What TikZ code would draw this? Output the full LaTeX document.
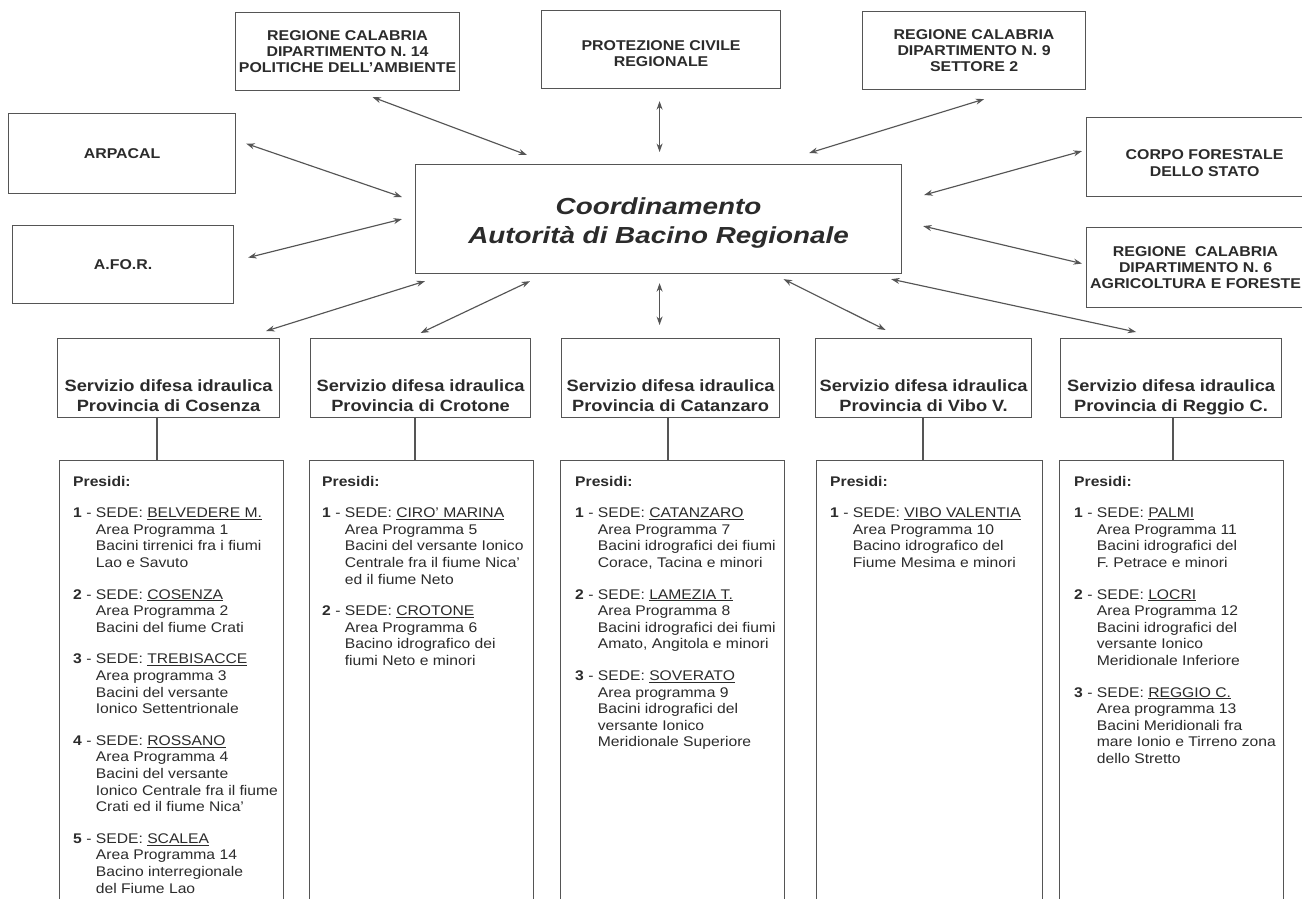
\documentclass[tikz,border=0pt]{standalone}
\usepackage{fontspec}
\setmainfont{Liberation Sans}[FakeStretch=1.12]
\newfontfamily\coordfont{Liberation Sans}[FakeStretch=1.2]
\usetikzlibrary{arrows.meta}
\definecolor{ln}{HTML}{555555}
\definecolor{tx}{HTML}{2B2B2B}
\newcommand\topf{\fontsize{14.2}{16.3}\selectfont\bfseries}
\newcommand\svcf{\fontsize{16.3}{20}\selectfont\bfseries}
\newcommand\bodyf{\fontsize{14}{16.6}\selectfont}
\newcommand\nr[1]{\textbf{#1}~-~}
\begin{document}
\begin{tikzpicture}[x=1pt,y=-1pt,
  box/.style={draw=ln, line width=1.15pt, inner sep=0pt, anchor=north west, text=tx, align=center},
  topbox/.style={box, font=\topf, minimum height=78pt},
  svcbox/.style={box, minimum width=#1, minimum height=79pt},
  prbox/.style={box, minimum width=#1, minimum height=470pt},
  boxtxt/.style={inner sep=0pt, text=tx, align=center, font=\topf},
  svctxt/.style={anchor=base, inner sep=0pt, text=tx, font=\svcf},
  coltxt/.style={anchor=base west, inner sep=0pt, text=tx, font=\bodyf},
  arr/.style={draw=ln, line width=1.15pt, {Stealth[length=8.5pt,width=6pt]}-{Stealth[length=8.5pt,width=6pt]}},
  link/.style={draw=ln, line width=1.15pt}]
\useasboundingbox (0,0) rectangle (1302,899);
\fill[white] (0,0) rectangle (1302,899);

% top boxes
\node[topbox, minimum width=224pt] (dip14) at (235,12) {REGIONE CALABRIA\\DIPARTIMENTO N. 14\\POLITICHE DELL'AMBIENTE};
\node[topbox, minimum width=239pt] (prot) at (541,10) {};
\node[boxtxt] (tprot) at ([shift={(0,4)}]prot.center) {PROTEZIONE CIVILE\\REGIONALE};
\node[topbox, minimum width=223pt] (dip9) at (862,11) {REGIONE CALABRIA\\DIPARTIMENTO N. 9\\SETTORE 2};
\node[topbox, minimum width=227pt, minimum height=80pt] (arpacal) at (8,113) {ARPACAL};
\node[topbox, minimum width=221pt] (afor) at (12,225) {A.FO.R.};
\node[topbox, minimum width=236pt, minimum height=79pt] (corpo) at (1086,117) {};
\node[boxtxt] (tcorpo) at ([shift={(0,6)}]corpo.center) {CORPO FORESTALE\\DELLO STATO};
\node[topbox, minimum width=218pt, minimum height=80pt] (dip6) at (1086,227) {REGIONE\ \ CALABRIA\\DIPARTIMENTO N. 6\\AGRICOLTURA E FORESTE};

% central box
\node[box, minimum width=486pt, minimum height=109pt] (coord) at (415,164) {};
\node[inner sep=0pt, text=tx, align=center, font={\coordfont\fontsize{23.2}{28.5}\selectfont\bfseries\itshape}] (tcoord) at ([shift={(0,4)}]coord.center) {Coordinamento\\Autorità di Bacino Regionale};

% service boxes
\node[svcbox=222pt] (cos) at (57,338) {};
\node[svcbox=220pt] (cro) at (310,338) {};
\node[svcbox=218pt] (cat) at (561,338) {};
\node[svcbox=216pt] (vib) at (815,338) {};
\node[svcbox=221pt] (reg) at (1060,338) {};

\node[svctxt] (tcos) at (cos.center |- 0,391) {\begin{tabular}[t]{@{}c@{}}Servizio difesa idraulica\\Provincia di Cosenza\end{tabular}};
\node[svctxt] (tcro) at (cro.center |- 0,391) {\begin{tabular}[t]{@{}c@{}}Servizio difesa idraulica\\Provincia di Crotone\end{tabular}};
\node[svctxt] (tcat) at (cat.center |- 0,391) {\begin{tabular}[t]{@{}c@{}}Servizio difesa idraulica\\Provincia di Catanzaro\end{tabular}};
\node[svctxt] (tvib) at (vib.center |- 0,391) {\begin{tabular}[t]{@{}c@{}}Servizio difesa idraulica\\Provincia di Vibo V.\end{tabular}};
\node[svctxt] (treg) at (reg.center |- 0,391) {\begin{tabular}[t]{@{}c@{}}Servizio difesa idraulica\\Provincia di Reggio C.\end{tabular}};

% presidi boxes
\node[prbox=224pt] (pcos) at (59,460) {};
\node[prbox=224pt] (pcro) at (309,460) {};
\node[prbox=224pt] (pcat) at (560,460) {};
\node[prbox=226pt] (pvib) at (816,460) {};
\node[prbox=224pt] (preg) at (1059,460) {};

% vertical links
\coordinate (vcos) at (157,0);
\coordinate (vcro) at (415,0);
\coordinate (vcat) at (668,0);
\coordinate (vvib) at (923,0);
\coordinate (vreg) at (1173,0);
\draw[link] (vcos |- cos.south) -- (vcos |- pcos.north);
\draw[link] (vcro |- cro.south) -- (vcro |- pcro.north);
\draw[link] (vcat |- cat.south) -- (vcat |- pcat.north);
\draw[link] (vvib |- vib.south) -- (vvib |- pvib.north);
\draw[link] (vreg |- reg.south) -- (vreg |- preg.north);

% column texts
\node[coltxt] (ccos) at (73,486) {\begin{tabular}[t]{@{}l@{}l@{}}
\multicolumn{2}{@{}l@{}}{\textbf{Presidi:}}\\[15pt]
\nr{1} & SEDE: \underline{BELVEDERE M.}\\
 & Area Programma 1\\
 & Bacini tirrenici fra i fiumi\\
 & Lao e Savuto\\[15pt]
\nr{2} & SEDE: \underline{COSENZA}\\
 & Area Programma 2\\
 & Bacini del fiume Crati\\[15pt]
\nr{3} & SEDE: \underline{TREBISACCE}\\
 & Area programma 3\\
 & Bacini del versante\\
 & Ionico Settentrionale\\[15pt]
\nr{4} & SEDE: \underline{ROSSANO}\\
 & Area Programma 4\\
 & Bacini del versante\\
 & Ionico Centrale fra il fiume\\
 & Crati ed il fiume Nica'\\[15pt]
\nr{5} & SEDE: \underline{SCALEA}\\
 & Area Programma 14\\
 & Bacino interregionale\\
 & del Fiume Lao
\end{tabular}};

\node[coltxt] (ccro) at (322,486) {\begin{tabular}[t]{@{}l@{}l@{}}
\multicolumn{2}{@{}l@{}}{\textbf{Presidi:}}\\[15pt]
\nr{1} & SEDE: \underline{CIRO' MARINA}\\
 & Area Programma 5\\
 & Bacini del versante Ionico\\
 & Centrale fra il fiume Nica'\\
 & ed il fiume Neto\\[15pt]
\nr{2} & SEDE: \underline{CROTONE}\\
 & Area Programma 6\\
 & Bacino idrografico dei\\
 & fiumi Neto e minori
\end{tabular}};

\node[coltxt] (ccat) at (575,486) {\begin{tabular}[t]{@{}l@{}l@{}}
\multicolumn{2}{@{}l@{}}{\textbf{Presidi:}}\\[15pt]
\nr{1} & SEDE: \underline{CATANZARO}\\
 & Area Programma 7\\
 & Bacini idrografici dei fiumi\\
 & Corace, Tacina e minori\\[15pt]
\nr{2} & SEDE: \underline{LAMEZIA T.}\\
 & Area Programma 8\\
 & Bacini idrografici dei fiumi\\
 & Amato, Angitola e minori\\[15pt]
\nr{3} & SEDE: \underline{SOVERATO}\\
 & Area programma 9\\
 & Bacini idrografici del\\
 & versante Ionico\\
 & Meridionale Superiore
\end{tabular}};

\node[coltxt] (cvib) at (830,486) {\begin{tabular}[t]{@{}l@{}l@{}}
\multicolumn{2}{@{}l@{}}{\textbf{Presidi:}}\\[15pt]
\nr{1} & SEDE: \underline{VIBO VALENTIA}\\
 & Area Programma 10\\
 & Bacino idrografico del\\
 & Fiume Mesima e minori
\end{tabular}};

\node[coltxt] (creg) at (1074,486) {\begin{tabular}[t]{@{}l@{}l@{}}
\multicolumn{2}{@{}l@{}}{\textbf{Presidi:}}\\[15pt]
\nr{1} & SEDE: \underline{PALMI}\\
 & Area Programma 11\\
 & Bacini idrografici del\\
 & F. Petrace e minori\\[15pt]
\nr{2} & SEDE: \underline{LOCRI}\\
 & Area Programma 12\\
 & Bacini idrografici del\\
 & versante Ionico\\
 & Meridionale Inferiore\\[15pt]
\nr{3} & SEDE: \underline{REGGIO C.}\\
 & Area programma 13\\
 & Bacini Meridionali fra\\
 & mare Ionio e Tirreno zona\\
 & dello Stretto
\end{tabular}};

% arrows
\draw[arr] ([shift={(25,6)}]dip14.south) -- ([shift={(112,-9)}]coord.north west);
\draw[arr] ([shift={(-1.5,12)}]prot.south) -- ([shift={(1,-12)}]coord.north);
\draw[arr] ([shift={(10,9)}]dip9.south) -- ([shift={(-93,-11)}]coord.north east);
\draw[arr] ([shift={(10,-10)}]arpacal.east) -- ([shift={(-13,-22)}]coord.west);
\draw[arr] ([shift={(14,-7)}]afor.east) -- ([shift={(-13,0)}]coord.west);
\draw[arr] ([shift={(22,31)}]coord.north east) -- ([shift={(-4,-6)}]corpo.west);
\draw[arr] ([shift={(21,7)}]coord.east) -- ([shift={(-4,-4)}]dip6.west);
\draw[arr] ([shift={(-14,-7)}]cos.north east) -- ([shift={(10,7)}]coord.south west);
\draw[arr] ([shift={(0,-5)}]cro.north) -- ([shift={(115,7)}]coord.south west);
\draw[arr] ([shift={(1,9)}]coord.south) -- ([shift={(-11,-13)}]cat.north);
\draw[arr] ([shift={(125,5)}]coord.south) -- ([shift={(-38,-8)}]vib.north);
\draw[arr] ([shift={(-11,5)}]coord.south east) -- ([shift={(-35,-6)}]reg.north);
\end{tikzpicture}
\end{document}
